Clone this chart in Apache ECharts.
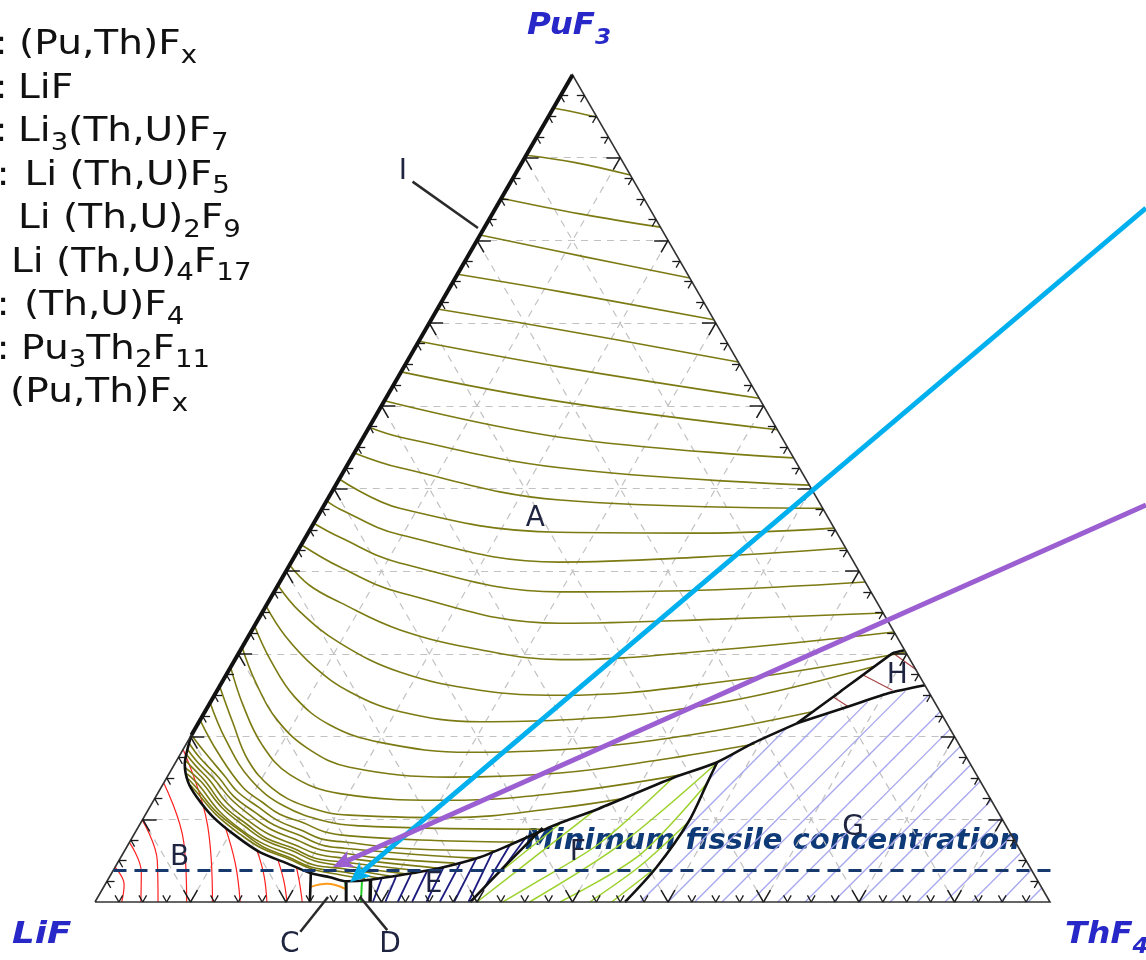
<!DOCTYPE html>
<html>
<head>
<meta charset="utf-8">
<title>LiF–ThF4–PuF3 liquidus projection</title>
<script src="https://cdn.jsdelivr.net/npm/echarts@6/dist/echarts.min.js"></script>
<style>
  html, body { margin: 0; padding: 0; background: #ffffff; }
  #chart { width: 1146px; height: 960px; }
</style>
</head>
<body>
<div id="chart"></div>
<script>
// All compositions are mol % written as [ThF4, PuF3]; LiF makes up the rest.

const vertexNames = { left: ['LiF', ''], right: ['ThF', '4'], top: ['PuF', '3'] };
const gridLevels = [10, 20, 30, 40, 50, 60, 70, 80, 90];
const tickStep = 2.5;
const minFissilePuF3 = 3.87;
const minFissileText = 'Minimum fissile concentration';

// Isotherms of the (Pu,Th)Fx primary field (A)
const isothermsA = [
  [[0,96.0],[2.5,95.5],[5.1,94.9]],
  [[0,90.3],[5.6,89.4],[12.1,87.9]],
  [[0,85.1],[9.2,83.2],[18.4,81.6]],
  [[0,80.65],[12.3,78.0],[24.55,75.45]],
  [[0,75.9],[11.8,73.8],[29.6,70.4]],
  [[0,71.7],[14.1,69.2],[34.7,65.3]],
  [[0,67.8],[16.3,64.7],[39.1,60.9]],
  [[0,64.1],[18.5,60.5],[42.9,57.1]],
  [[0,60.6],[20.6,56.2],[46.3,53.7]],
  [[0,57.4],[3.9,56.2],[22.45,52.5],[49.6,50.4]],
  [[0,54.3],[5.7,52.5],[24.4,48.6],[52.4,47.6]],
  [[0,51.15],[8.1,47.6],[26.3,44.7],[41.0,44.6],[54.8,45.2]],
  [[0,48.5],[1.9,47.5],[9.75,44.4],[28.1,41.1],[42.5,41.7],[57.2,42.8]],
  [[0,45.8],[3.6,44.1],[11.4,41.0],[29.95,37.5],[44.5,37.7],[61.3,38.7]],
  [[0,43.2],[5.4,40.5],[13.3,37.4],[31.8,33.7],[48.3,34.2],[65.05,34.95]],
  [[0,40.75],[3.3,38.3],[7.6,36.2],[15.5,32.9],[25.1,30.5],[34.1,29.3],[50.2,30.5],[67.35,32.65]],
  [[0,38.3],[3.9,35.1],[10.0,31.3],[18.0,27.8],[27.5,25.6],[36.2,25.0],[52.2,26.6],[69.8,30.2]],
  [[0,35.8],[3.8,32.2],[8.8,28.4],[14.0,25.4],[20.5,23.0],[29.4,21.8],[37.7,22.0],[53.4,24.1],[67.4,28.5]],
  [[0,33.4],[3.7,29.3],[8.5,24.8],[13.9,21.4],[20.2,19.3],[30.2,18.1],[39.5,18.4],[52.2,20.2],[63.6,23.0]],
  [[0,30.8],[3.6,26.5],[8.2,21.9],[13.3,18.4],[18.5,16.3],[29.6,15.1],[40.9,15.6],[50.6,17.2],[59.5,19.1]],
  [[0,28.4],[3.6,23.8],[8.0,19.0],[12.7,15.4],[19.1,13.1],[31.0,12.3],[42.1,13.2],[53.8,15.4]],
  [[0,26.1],[3.5,21.8],[7.4,17.2],[11.6,13.8],[16.2,11.6],[21.4,10.5],[32.1,10.2],[43.0,11.4],[49.0,12.5]],
  [[0,24.1],[3.9,19.6],[8.9,14.8],[14.0,11.6],[19.5,9.7],[23.2,9.2],[31.7,8.9],[42.7,8.8]],
  [[0,22.0],[3.8,18.1],[8.5,13.9],[11.6,12.0],[14.05,10.6],[17.1,9.55],[19.75,8.5],[22.7,8.0],[30.3,7.5],[40.35,7.25]],
  [[0,20.2],[2.45,18.1],[6.0,15.2],[8.3,13.3],[11.5,11.4],[14.1,9.9],[17.2,8.7],[19.95,7.6],[22.55,7.25],[28.7,6.5],[38.8,6.2]],
  [[0.1,19.35],[2.3,17.4],[5.5,15.0],[8.1,12.8],[11.4,10.8],[14.1,9.3],[17.3,8.1],[20.3,6.9],[22.9,6.5],[29.0,5.9],[37.1,5.3]],
  [[0.4,18.5],[2.3,16.9],[5.0,14.9],[8.0,12.45],[11.3,10.3],[14.2,8.7],[17.4,7.5],[20.15,6.4],[23.2,5.9],[27.2,5.3],[35.3,4.7]],
  [[0.7,17.8],[2.4,16.4],[4.6,14.75],[7.8,12.0],[11.2,9.8],[14.1,8.2],[17.5,6.9],[20.35,5.8],[23.5,5.3],[33.75,4.1]],
  [[1.0,17.05],[2.4,16.0],[4.25,14.6],[7.7,11.6],[11.2,9.4],[14.1,7.7],[17.5,6.5],[20.4,5.3],[23.8,4.8],[32.2,3.75]],
  [[1.4,16.2],[3.9,14.5],[7.6,11.4],[11.2,9.1],[14.2,7.4],[17.55,6.2],[20.45,5.0],[24.0,4.35],[30.8,3.4]],
  [[1.9,15.5],[3.8,14.15],[7.5,11.0],[11.0,8.7],[14.2,7.0],[17.7,5.7],[20.6,4.5],[24.2,4.0],[29.3,3.15]],
  [[2.3,14.9],[3.6,13.9],[7.4,10.8],[11.1,8.5],[14.3,6.65],[17.6,5.4],[20.6,4.2],[24.4,3.6],[28.2,2.9]],
  [[2.9,14.15],[4.1,13.2],[7.35,10.6],[11.1,8.2],[14.2,6.5],[17.7,5.2],[20.7,4.0],[24.0,3.3],[26.9,2.8]]
];

// LiF primary field (B) isotherms
const isothermsB = [
  [[2.8,0],[2.0,2.1],[0,4.2]],
  [[4.8,0],[3.05,3.6],[0,7.2]],
  [[6.6,0],[4.05,4.95],[0,9.9]],
  [[9.6,0],[5.7,7.2],[0,14.4]],
  [[12.3,0],[7.2,9.2],[0,18.45]],
  [[15.2,0],[12.4,4.6],[9.0,9.2]],
  [[18.0,0],[16.1,3.2],[13.8,6.3]],
  [[20.1,0],[18.5,2.55],[16.6,5.1]],
  [[21.7,0],[20.4,2.1],[19.0,4.2]]
];

// Li(Th,U)2F9 field (E)
const hatchE = [
  [[29.1,0],[28.6,2.8]], [[30.4,0],[30.0,3.0]], [[31.7,0],[31.4,3.4]],
  [[33.2,0],[32.9,3.75]], [[34.7,0],[34.4,4.2]], [[36.1,0],[35.9,4.8]],
  [[37.6,0],[37.3,5.3]], [[39.1,0],[38.6,6.2]], [[39.9,1.8],[40.0,6.9]],
  [[40.75,4.35],[41.25,8.0]]
];

// Li(Th,U)4F17 field (F)
const hatchF = [
  [[40.6,3.6],[44.1,9.7]],
  [[40.0,0],[43.6,5.9],[46.8,11.1]],
  [[42.7,0],[45.3,2.7],[49.3,7.1],[53.0,15.0]],
  [[45.5,0],[51.5,6.9],[56.6,16.6]],
  [[48.7,0],[54.2,5.7],[56.9,14.4]],
  [[51.8,0],[54.9,4.35],[57.3,9.7]],
  [[54.1,0],[56.7,4.2]]
];

// (Th,U)F4 field (G)
const hatchG = [
  [[56.9,14.9],[58.0,18.0]], [[57.1,7.7],[61.9,21.0]], [[57.1,0],[65.4,22.7]],
  [[60.0,0],[68.8,24.2]], [[62.8,0],[72.1,25.5]], [[65.65,0],[74.85,25.15]],
  [[68.6,0],[77.0,23.0]], [[71.5,0],[79.1,20.9]], [[74.35,0],[81.2,18.8]],
  [[77.3,0],[83.4,16.6]], [[80.1,0],[85.4,14.6]], [[83.25,0],[87.7,12.3]],
  [[86.1,0],[89.8,10.2]], [[89.0,0],[92.0,8.0]], [[91.8,0],[94.0,6.0]],
  [[94.8,0],[96.1,3.9]], [[97.7,0],[98.3,1.7]]
];

// Pu3Th2F11 field (H)
const hatchH = [
  [[66.7,27.45],[70.7,25.6]], [[64.9,24.8],[67.1,23.6]], [[68.5,30.1],[72.0,28.05]]
];

// Phase-field boundaries
const boundaryA = [[0,20.2],[1.1,16.6],[2.5,14.5],[4.3,12.7],[7.2,10.3],[10.9,7.9],[14.3,6.0],[17.7,4.7],[20.8,3.5],[23.1,3.0],[25.1,2.5],[27.5,2.7],[31.55,3.5],[34.1,4.1],[37.6,5.4],[40.0,6.9],[43.9,9.55],[46.8,11.1],[53.0,15.0],[56.7,16.9],[59.3,19.2],[62.7,21.6]];
const boundaryHUpper = [[62.7,21.6],[65.3,25.4],[68.5,30.1],[69.55,30.45]];
const boundaryHLower = [[62.7,21.6],[67.2,23.7],[70.6,25.3],[73.8,26.2]];
const boundaryFG = [[56.7,16.9],[56.9,14.5],[57.3,9.7],[56.7,4.2],[55.5,0]];
const boundaryEF = [[39.3,0],[40.75,4.35],[42.4,8.95]];
const boundaryBC = [[20.9,3.4],[22.5,0]];
const boundaryCD = [[25.1,2.4],[26.3,0]];
const boundaryDE = [[27.5,2.7],[28.8,0]];
const fieldC = [[21.6,1.8],[23.2,2.2],[25.4,1.6]];
const fieldD = [[[26.7,2.5],[27.85,0]], [[25.0,2.4],[25.6,1.45]]];
const fieldI = [[0,100],[0,20.2]];

const pointers = [
  [[23.3,-3.6],[24.1,0.6]],
  [[32.3,-3.4],[27.45,0.6]],
  [[-10.3,87.1],[-0.65,81.5]]
];

const regionLabels = [
  { name: 'A', at: [22.9,46.4] }, { name: 'B', at: [6.2,5.3] },
  { name: 'C', at: [23.0,-5.2] }, { name: 'D', at: [33.5,-5.2] },
  { name: 'E', at: [34.4,2.1] },  { name: 'F', at: [47.6,5.9] },
  { name: 'G', at: [74.9,8.95] }, { name: 'H', at: [70.3,27.4] },
  { name: 'I', at: [-11.9,88.3] }
];

const arrows = [
  { from: [68.1,83.9], to: [25.5,2.4], color: '#00b0ee' },
  { from: [86.05,48.0], to: [22.8,4.23], color: '#9b5fd2' }
];

// Phase list on the left edge
const phaseList = [
  { colon: 1, parts: [['(Pu,Th)F'], ['x', 's']] },
  { colon: 1, parts: [['LiF']] },
  { colon: 1, parts: [['Li'], ['3', 's'], ['(Th,U)F'], ['7', 's']] },
  { colon: 2, parts: [['Li (Th,U)F'], ['5', 's']] },
  { colon: 0, parts: [['Li (Th,U)'], ['2', 's'], ['F'], ['9', 's']] },
  { colon: 0, parts: [['Li (Th,U)'], ['4', 's'], ['F'], ['17', 's']] },
  { colon: 2, parts: [['(Th,U)F'], ['4', 's']] },
  { colon: 2, parts: [['Pu'], ['3', 's'], ['Th'], ['2', 's'], ['F'], ['11', 's']] },
  { colon: 0, parts: [['(Pu,Th)F'], ['x', 's']] }
];
const phaseListX = [19, 18, 18, 24.5, 18, 11, 24, 21, 10];
const phaseListTop = 57, phaseListStep = 43.5;

// ---- geometry ----
const PX = { left: 95, base: 902, scale: 9.55, W: 1146, H: 960 };
const H3 = Math.sqrt(3) / 2;
const toXY = ([t, p]) => [t + p / 2, p * H3];

const measureCtx = document.createElement('canvas').getContext('2d');
function measure(text, font) { measureCtx.font = font; return measureCtx.measureText(text).width; }

function formula(x, baseline, parts, o) {
  const fam = '"DejaVu Sans", sans-serif';
  const pre = (o.style || 'normal') + ' normal ' + (o.weight || 'normal') + ' ';
  const children = [];
  let cx = 0;
  parts.forEach(([s, kind]) => {
    const sub = kind === 's';
    const fs = sub ? Math.round(o.size * o.subRatio) : o.size;
    const font = pre + fs + 'px ' + fam;
    const dy = sub ? o.subDrop : 0;
    children.push({
      type: 'text', x: cx, y: dy - 0.346 * fs, silent: true,
      style: { text: s, font: font, fill: o.color, align: 'left', verticalAlign: 'middle' }
    });
    cx += measure(s, font);
  });
  return { type: 'group', x: x, y: baseline, scaleX: o.scaleX || 1, children: children };
}

const series = [];
function addSegments(list, style, z, polyline) {
  series.push({
    type: 'lines', coordinateSystem: 'cartesian2d', polyline: !!polyline, silent: true, z: z,
    animation: false, lineStyle: Object.assign({ opacity: 1, curveness: 0 }, style),
    data: list.map(seg => ({ coords: seg.map(toXY) }))
  });
}
function addCurve(pts, style, smooth, z) {
  series.push({
    type: 'line', data: pts.map(toXY), smooth: smooth, symbol: 'none', showSymbol: false,
    silent: true, z: z, animation: false, lineStyle: style
  });
}

// dashed composition grid
const gridSegs = [];
gridLevels.forEach(g => {
  gridSegs.push([[0, g], [100 - g, g]]);
  gridSegs.push([[g, 0], [g, 100 - g]]);
  gridSegs.push([[100 - g, 0], [0, 100 - g]]);
});
addSegments(gridSegs, { color: '#c2c2c2', width: 1.2, type: [7, 6] }, 1);

// field hatching and isotherms
isothermsB.forEach(c => addCurve(c, { color: '#ff2020', width: 1.2 }, 0.4, 2));
hatchE.forEach(c => addCurve(c, { color: '#1c1c80', width: 1.8 }, 0.3, 2));
hatchF.forEach(c => addCurve(c, { color: '#9cd22c', width: 1.5 }, 0.3, 2));
hatchG.forEach(c => addCurve(c, { color: '#a6a6ee', width: 1.3 }, 0.3, 2));
hatchH.forEach(c => addCurve(c, { color: '#a84444', width: 1.2 }, 0, 2));
isothermsA.forEach(c => addCurve(c, { color: '#7c7a12', width: 1.6 }, 0.4, 3));
addCurve(fieldC, { color: '#ff9a1a', width: 2 }, 0.4, 3);
fieldD.forEach(c => addCurve(c, { color: '#22cc22', width: 2 }, 0, 3));

// boundaries
const bStyle = { color: '#111111', width: 2.6 };
addCurve(boundaryA, bStyle, 0.25, 4);
addCurve(boundaryHUpper, bStyle, 0.1, 4);
addCurve(boundaryHLower, bStyle, 0.2, 4);
addCurve(boundaryFG, bStyle, 0.3, 4);
addCurve(boundaryEF, bStyle, 0.2, 4);
addCurve(boundaryBC, bStyle, 0, 4);
addCurve(boundaryCD, { color: '#111', width: 3 }, 0, 4);
addCurve(boundaryDE, { color: '#111', width: 3.5 }, 0, 4);
addCurve(fieldI, { color: '#111', width: 4 }, 0, 5);

// triangle frame and ticks
addSegments([[[0, 0], [100, 0], [0, 100], [0, 0]]], { color: '#333', width: 1.6 }, 5, true);
const tickMajor = [], tickMinor = [];
for (let v = tickStep; v < 100; v += tickStep) {
  const major = v % 10 === 0;
  const L = major ? 1.45 : 0.8;
  const bucket = major ? tickMajor : tickMinor;
  bucket.push([[v, 0], [v, L]], [[v, 0], [v - L, L]]);
  bucket.push([[0, v], [L, v]], [[0, v], [L, v - L]]);
  bucket.push([[100 - v, v], [100 - v - L, v]], [[100 - v, v], [100 - v, v - L]]);
}
addSegments(tickMajor, { color: '#1a1a1a', width: 1.5 }, 5);
addSegments(tickMinor, { color: '#1a1a1a', width: 1.3 }, 5);

// label pointers
addSegments(pointers, { color: '#2a2a2a', width: 2.5 }, 6);

// minimum fissile level
addSegments([[[0, minFissilePuF3], [98.3, minFissilePuF3]]], { color: '#17396e', width: 3, type: [13, 8] }, 6);

// arrows
series.push({
  type: 'custom', coordinateSystem: 'cartesian2d', silent: true, z: 8, animation: false,
  data: arrows.map(a => toXY(a.from).concat(toXY(a.to))),
  encode: { x: [0, 2], y: [1, 3] },
  renderItem(params, api) {
    const a = api.coord([api.value(0), api.value(1)]);
    const b = api.coord([api.value(2), api.value(3)]);
    const col = arrows[params.dataIndex].color;
    const dx = b[0] - a[0], dy = b[1] - a[1], len = Math.hypot(dx, dy);
    const ux = dx / len, uy = dy / len, nx = -uy, ny = ux;
    const Lh = 20, Wh = 9, notch = 5;
    const bx = b[0] - ux * Lh, by = b[1] - uy * Lh;
    const ix = b[0] - ux * (Lh - notch), iy = b[1] - uy * (Lh - notch);
    return {
      type: 'group', children: [
        { type: 'line', shape: { x1: a[0], y1: a[1], x2: ix, y2: iy }, style: { stroke: col, lineWidth: 5 } },
        { type: 'polygon', shape: { points: [[b[0], b[1]], [bx + nx * Wh, by + ny * Wh], [ix, iy], [bx - nx * Wh, by - ny * Wh]] }, style: { fill: col } }
      ]
    };
  }
});

// field letters
series.push({
  type: 'custom', coordinateSystem: 'cartesian2d', silent: true, z: 9, animation: false,
  data: regionLabels.map(l => toXY(l.at)),
  renderItem(params, api) {
    const c = api.coord([api.value(0), api.value(1)]);
    return {
      type: 'text', x: c[0], y: c[1],
      style: { text: regionLabels[params.dataIndex].name, font: '28px "DejaVu Sans", sans-serif', fill: '#1f2540', align: 'center', verticalAlign: 'middle' }
    };
  }
});

// texts drawn with the graphic component
const graphics = [];
const listStyle = { size: 34, subRatio: 0.72, subDrop: 8, color: '#111', scaleX: 1.15 };
phaseList.forEach((row, i) => {
  const base = phaseListTop + phaseListStep * i;
  if (row.colon) {
    graphics.push(formula(row.colon === 1 ? -5.5 : -3.5, base, [[':']], listStyle));
  }
  graphics.push(formula(phaseListX[i], base, row.parts, listStyle));
});
const vStyle = { size: 31, subRatio: 0.72, subDrop: 9, color: '#2828c8', style: 'italic', weight: 'bold', scaleX: 1.05 };
graphics.push(formula(527, 37, [[vertexNames.top[0]], [vertexNames.top[1], 's']], vStyle));
graphics.push(formula(12, 946, [[vertexNames.left[0]]], Object.assign({}, vStyle, { scaleX: 1.15 })));
graphics.push(formula(1065, 946, [[vertexNames.right[0]], [vertexNames.right[1], 's']], vStyle));
graphics.push(formula(525, 852, [[minFissileText]], { size: 29, color: '#0e3a78', style: 'italic', weight: 'bold' }));

const chart = echarts.init(document.getElementById('chart'));
chart.setOption({
  animation: false,
  backgroundColor: '#ffffff',
  grid: { left: 0, right: 0, top: 0, bottom: 0, containLabel: false },
  xAxis: { type: 'value', show: false, min: -PX.left / PX.scale, max: (PX.W - PX.left) / PX.scale },
  yAxis: { type: 'value', show: false, min: -(PX.H - PX.base) / PX.scale, max: PX.base / PX.scale },
  series: series,
  graphic: graphics
});
</script>
</body>
</html>
